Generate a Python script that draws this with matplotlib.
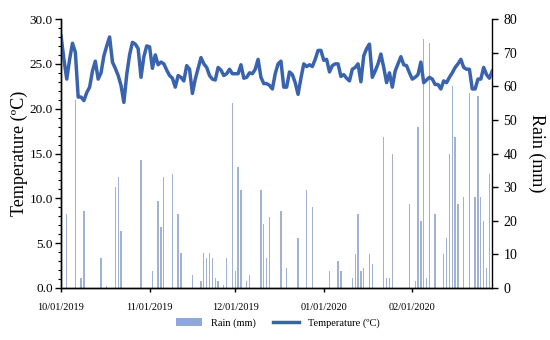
import numpy as np
import pandas as pd
import matplotlib
matplotlib.use("Agg")
import matplotlib.pyplot as plt
import matplotlib.dates as mdates
from matplotlib.patches import Patch
from matplotlib.lines import Line2D

plt.rcParams['font.family'] = ['Liberation Serif', 'DejaVu Serif']

# daily mean temperature, 01/10/2019 .. 29/02/2020
start_date = '2019-10-01'
temperature = [
    28.1, 25.5, 23.3, 25.5, 27.3, 26.3, 21.3, 21.3, 20.9, 21.8,
    22.4, 24.2, 25.3, 23.3, 24.0, 25.9, 27.0, 28.0, 25.2, 24.5,
    23.7, 22.6, 20.7, 23.8, 26.0, 27.4, 27.2, 26.7, 23.5, 25.8,
    27.0, 26.9, 24.5, 26.0, 24.9, 25.2, 25.0, 24.3, 23.7, 23.4,
    22.4, 23.7, 23.5, 23.1, 24.8, 24.4, 21.7, 23.3, 24.5, 25.7,
    25.0, 24.6, 23.7, 23.3, 23.2, 24.6, 24.3, 23.7, 23.9, 24.4,
    23.9, 23.9, 23.9, 24.9, 23.4, 23.5, 24.0, 23.9, 24.4, 25.5,
    23.5, 22.8, 22.8, 22.6, 22.2, 23.9, 25.0, 25.3, 22.4, 22.4,
    24.1, 23.8, 22.9, 21.6, 23.4, 25.0, 24.7, 24.9, 24.7, 25.5,
    26.5, 26.5, 25.4, 25.5, 24.1, 24.8, 25.0, 25.0, 23.6, 23.8,
    23.4, 23.1, 24.4, 24.6, 25.0, 23.0, 25.9, 26.7, 27.2, 23.5,
    24.2, 25.0, 26.1, 24.6, 22.9, 24.0, 22.4, 24.2, 25.0, 25.8,
    24.9, 24.8, 24.0, 23.3, 23.5, 23.8, 25.2, 22.9, 23.2, 23.5,
    23.3, 22.7, 22.7, 22.2, 23.1, 22.9, 23.5, 24.0, 24.6, 25.0,
    25.5, 24.6, 24.4, 24.4, 22.2, 22.2, 23.3, 23.3, 24.6, 23.8,
    23.4, 24.2,
]

rain_dates = [
    '2019-10-03', '2019-10-06', '2019-10-08', '2019-10-09', '2019-10-15',
    '2019-10-17', '2019-10-20', '2019-10-21', '2019-10-22', '2019-10-29',
    '2019-11-02', '2019-11-04', '2019-11-05', '2019-11-06', '2019-11-09',
    '2019-11-11', '2019-11-12', '2019-11-16', '2019-11-19', '2019-11-20',
    '2019-11-21', '2019-11-22', '2019-11-23', '2019-11-24', '2019-11-25',
    '2019-11-27', '2019-11-28', '2019-11-30', '2019-12-01', '2019-12-02',
    '2019-12-03', '2019-12-05', '2019-12-06', '2019-12-10', '2019-12-11',
    '2019-12-12', '2019-12-13', '2019-12-17', '2019-12-19', '2019-12-23',
    '2019-12-26', '2019-12-28', '2020-01-03', '2020-01-06', '2020-01-07',
    '2020-01-11', '2020-01-12', '2020-01-13', '2020-01-14', '2020-01-15',
    '2020-01-17', '2020-01-18', '2020-01-22', '2020-01-23', '2020-01-24',
    '2020-01-25', '2020-01-31', '2020-02-02', '2020-02-03', '2020-02-04',
    '2020-02-05', '2020-02-06', '2020-02-07', '2020-02-09', '2020-02-12',
    '2020-02-13', '2020-02-14', '2020-02-15', '2020-02-16', '2020-02-17',
    '2020-02-19', '2020-02-21', '2020-02-23', '2020-02-24', '2020-02-25',
    '2020-02-26', '2020-02-27', '2020-02-28',
]
rain_mm = [
    22, 56, 3, 23, 9,
    0.7, 30, 33, 17, 38,
    5, 26, 18, 33, 34,
    22, 10.5, 4, 2, 10.5,
    9, 10.5, 9, 3, 2,
    1, 9, 55, 5, 36,
    29, 2, 4, 29, 19,
    9, 21, 23, 6, 15,
    29, 24, 5, 8, 5,
    3, 10, 22, 5, 6,
    10, 7, 45, 3, 3,
    40, 25, 2, 48, 20,
    74, 3, 73, 22, 10,
    15, 40, 60, 45, 25,
    27, 58, 27, 57, 27,
    20, 6, 34,
]

temp_days = pd.date_range(start_date, periods=len(temperature), freq='D')
rain_days = pd.to_datetime(rain_dates)

line_color = '#3a63ad'
rain_color = '#a2b2d2'

fig = plt.figure(figsize=(5.5, 3.4), dpi=100)
ax = fig.add_axes([0.111, 0.153, 0.784, 0.791])
ax_r = ax.twinx()

ax_r.bar(rain_days, rain_mm, width=0.45, color=rain_color, linewidth=0)
ax.plot(temp_days, temperature, color=line_color, linewidth=2.5, solid_joinstyle='round')

ax.set_zorder(ax_r.get_zorder() + 1)
ax.patch.set_visible(False)

ax.set_xlim(temp_days[0], temp_days[-1])
ax.set_ylim(0, 30)
ax_r.set_ylim(0, 80)

ax.set_yticks(np.arange(0, 30.1, 5))
ax.set_yticks(np.arange(0, 30.1, 1), minor=True)
ax.yaxis.set_major_formatter(matplotlib.ticker.FormatStrFormatter('%.1f'))
ax_r.set_yticks(np.arange(0, 81, 10))

ax.xaxis.set_major_locator(mdates.MonthLocator())
ax.xaxis.set_major_formatter(mdates.DateFormatter('%m/%d/%Y'))

for a in (ax, ax_r):
    a.spines['top'].set_visible(False)
    for s in a.spines.values():
        s.set_linewidth(1.0)
        s.set_color('black')
ax.spines['right'].set_visible(False)

ax.tick_params(axis='y', which='major', direction='out', length=4, width=1.0, labelsize=9.5, pad=2)
ax.tick_params(axis='y', which='minor', direction='out', length=2.5, width=0.8)
ax.tick_params(axis='x', direction='out', length=3, width=1.0, labelsize=7.5, pad=8)
ax_r.tick_params(axis='y', direction='out', length=4, width=1.0, labelsize=10, pad=4)

ax.set_ylabel('Temperature (ºC)', fontsize=13, labelpad=1)
ax_r.set_ylabel('Rain (mm)', fontsize=13, rotation=270, labelpad=20)

handles = [Patch(facecolor='#8fa8d8', edgecolor='none'),
           Line2D([0], [0], color=line_color, linewidth=2.5)]
fig.legend(handles, ['Rain (mm)', 'Temperature (ºC)'], loc='center',
           bbox_to_anchor=(0.505, 0.05), ncol=2, frameon=False, fontsize=7.5,
           handlelength=2.5, handleheight=0.7, handletextpad=0.8,
           columnspacing=1.7)

fig.savefig('out.png', dpi=100)
